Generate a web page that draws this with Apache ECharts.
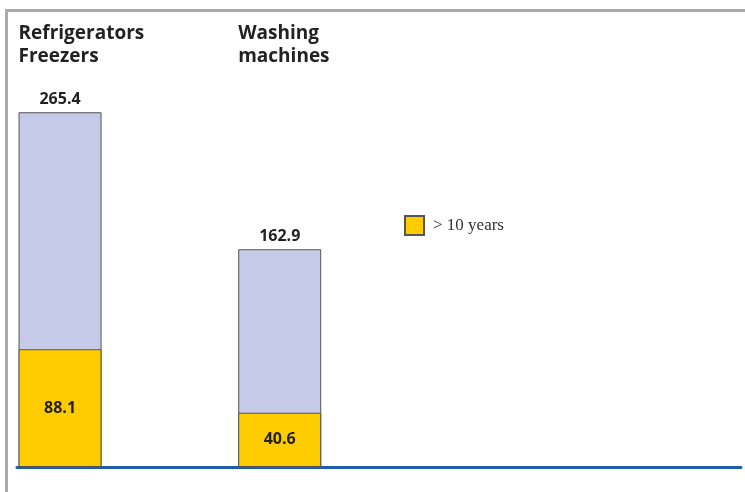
<!DOCTYPE html>
<html>
<head>
<meta charset="utf-8">
<script src="https://cdn.jsdelivr.net/npm/echarts@6/dist/echarts.min.js"></script>
<style>
  html, body { margin: 0; padding: 0; background: #fff; }
  #chart { width: 745px; height: 492px; }
</style>
</head>
<body>
<div id="chart"></div>
<script>
// Appliance stock (units), with the share older than 10 years
const categories = ['Refrigerators\nFreezers', 'Washing\nmachines'];
const totals = [265.4, 162.9];
const olderThan10 = [88.1, 40.6];
const olderName = '> 10 years';

const BAR_W = 83;

const chart = echarts.init(document.getElementById('chart'), null, { renderer: 'canvas' });

const option = {
  animation: false,
  backgroundColor: '#ffffff',
  textStyle: { fontFamily: 'Open Sans' },
  grid: { left: 17, right: 4, top: 66, bottom: 25, containLabel: false },
  legend: {
    data: [olderName],
    left: 404,
    top: 215,
    padding: 0,
    itemWidth: 19,
    itemHeight: 19,
    icon: 'rect',
    selectedMode: false,
    textStyle: {
      fontFamily: 'Liberation Serif',
      fontSize: 17,
      color: '#333',
      padding: [0, 0, 0, 4]
    }
  },
  xAxis: {
    type: 'value',
    min: -0.196,
    max: 3.1,
    axisLine: { show: true, onZero: false, lineStyle: { color: '#1b5ea9', width: 3 } },
    axisTick: { show: false },
    axisLabel: { show: false },
    splitLine: { show: false }
  },
  yAxis: {
    type: 'value',
    min: 0,
    max: 300,
    axisLine: { show: false },
    axisTick: { show: false },
    axisLabel: { show: false },
    splitLine: { show: false }
  },
  series: [
    {
      // full stock, drawn behind
      name: 'Total',
      type: 'bar',
      barWidth: BAR_W,
      barGap: '-100%',
      data: totals.map((v, i) => [i, v]),
      itemStyle: { color: '#c5cae8', borderColor: '#555', borderWidth: 1 },
      label: {
        show: true,
        position: 'top',
        distance: 5,
        formatter: p => totals[p.dataIndex].toFixed(1),
        fontFamily: 'Open Sans',
        fontWeight: 'bold',
        fontSize: 16,
        color: '#222'
      }
    },
    {
      // part older than 10 years, overlaid at the base
      name: olderName,
      type: 'bar',
      barWidth: BAR_W,
      barGap: '-100%',
      data: olderThan10.map((v, i) => [i, v]),
      itemStyle: { color: '#ffcc00', borderColor: '#555', borderWidth: 1 },
      label: {
        show: true,
        position: 'inside',
        formatter: p => olderThan10[p.dataIndex].toFixed(1),
        fontFamily: 'Open Sans',
        fontWeight: 'bold',
        fontSize: 16,
        color: '#222'
      }
    }
  ]
};

chart.setOption(option);

// Frame lines along the top and left edge, plus category headings above each bar
const headings = categories.map((name, i) => {
  const x = chart.convertToPixel({ xAxisIndex: 0 }, i) - BAR_W / 2;
  return {
    type: 'text',
    left: x,
    top: 22,
    style: {
      text: name,
      font: 'bold 19px "Open Sans"',
      fill: '#222',
      lineHeight: 23
    }
  };
});

chart.setOption({
  graphic: [
    { type: 'rect', shape: { x: 5, y: 9, width: 740, height: 3 }, style: { fill: '#aaaaaa' } },
    { type: 'rect', shape: { x: 5, y: 9, width: 3, height: 483 }, style: { fill: '#aaaaaa' } }
  ].concat(headings)
});
</script>
</body>
</html>
